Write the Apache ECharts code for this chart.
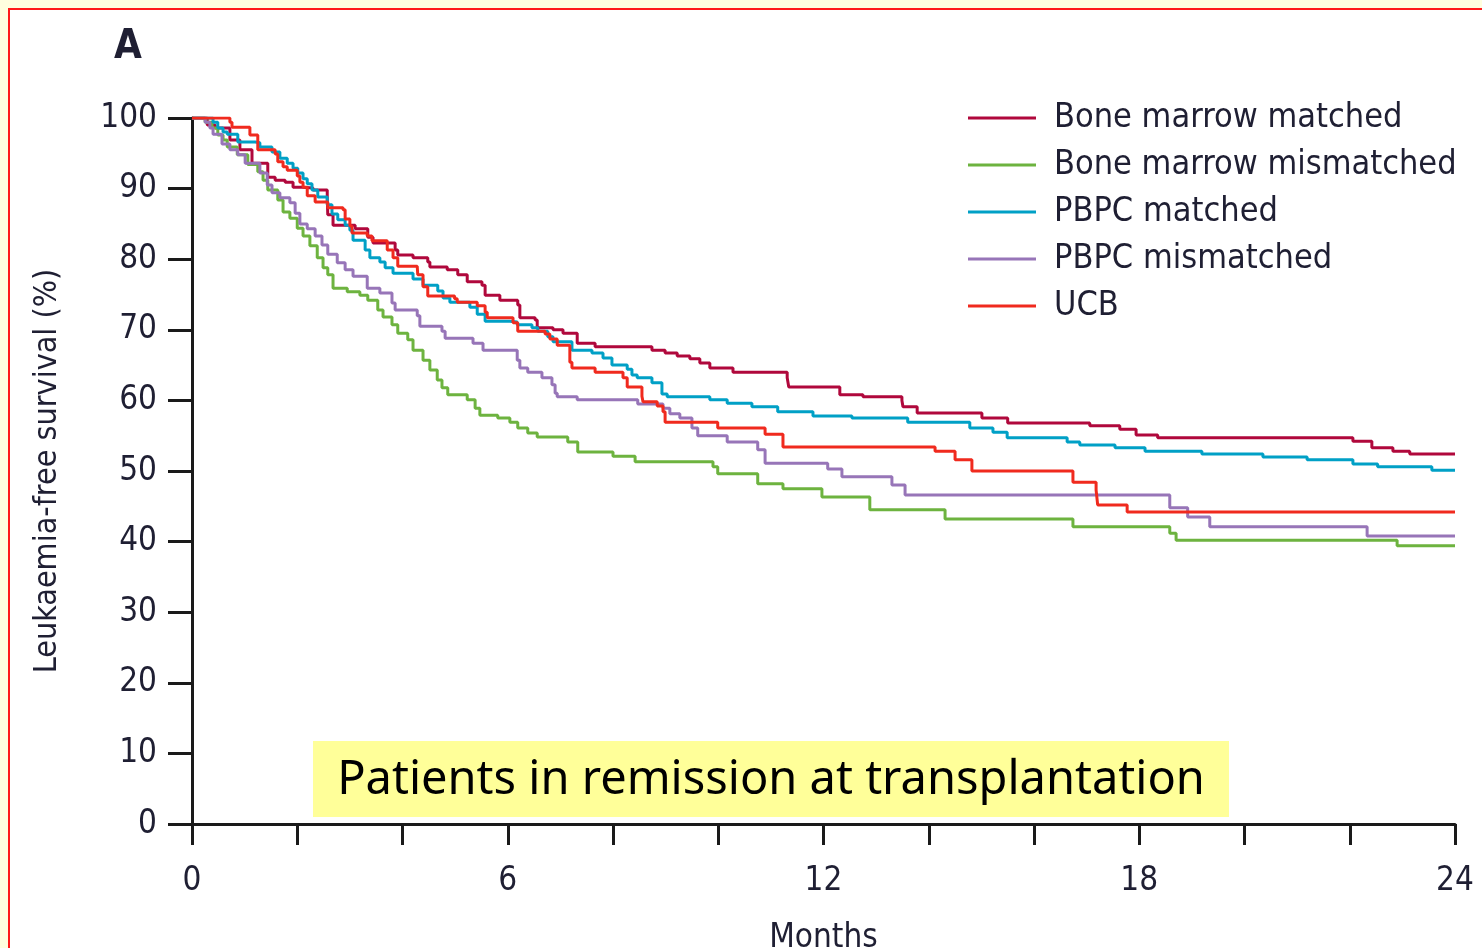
<!DOCTYPE html>
<html>
<head>
<meta charset="utf-8">
<script src="https://cdn.jsdelivr.net/npm/echarts@6/dist/echarts.min.js"></script>
<style>
  html, body { margin: 0; padding: 0; background: #FFFFDF; overflow: hidden; }
  #chart { width: 1482px; height: 948px; }
</style>
</head>
<body>
<div id="chart"></div>
<script>
// Kaplan-Meier step points: month at which survival (%) changes
const seriesNames = ['Bone marrow matched', 'Bone marrow mismatched', 'PBPC matched', 'PBPC mismatched', 'UCB'];
const seriesColors = ['#B0083C', '#6DB33F', '#00A0C6', '#9775B8', '#F02A1E'];

const bmMatchedMonths = [0, 0.29, 0.44, 0.72, 0.91, 1.14, 1.44, 1.58, 1.77, 1.92, 2.09, 2.30, 2.57, 2.58, 2.68, 3.10, 3.34, 3.44, 3.86, 3.91, 4.20, 4.48, 4.52, 4.85, 5.05, 5.23, 5.51, 5.57, 5.85, 6.19, 6.23, 6.52, 6.56, 6.86, 7.05, 7.32, 7.66, 8.74, 8.99, 9.22, 9.46, 9.65, 9.84, 10.28, 11.31, 11.34, 12.31, 12.75, 13.49, 13.51, 13.78, 15.01, 15.50, 17.06, 17.63, 17.94, 18.35, 22.06, 22.42, 22.82, 23.14, 24];
const bmMatchedSurvival = [100, 99.0, 98.6, 96.9, 95.5, 93.6, 91.6, 91.2, 90.9, 90.2, 90.1, 89.8, 88.8, 86.3, 84.8, 84.3, 83.1, 82.3, 81.3, 80.6, 80.2, 79.6, 78.9, 78.5, 77.8, 76.8, 76.3, 74.9, 74.2, 73.5, 71.7, 71.4, 70.3, 70.0, 69.5, 68.1, 67.6, 67.1, 66.7, 66.3, 65.9, 65.3, 64.6, 64.0, 63.2, 61.9, 60.8, 60.5, 60.0, 59.1, 58.2, 57.5, 56.8, 56.4, 55.9, 55.1, 54.7, 54.2, 53.3, 52.8, 52.4, 52.4];

const bmMismatchedMonths = [0, 0.25, 0.38, 0.49, 0.59, 0.67, 0.86, 1.06, 1.25, 1.35, 1.44, 1.63, 1.73, 1.86, 2.00, 2.11, 2.24, 2.38, 2.49, 2.58, 2.68, 2.95, 3.19, 3.34, 3.53, 3.63, 3.80, 3.91, 4.10, 4.20, 4.39, 4.52, 4.66, 4.75, 4.86, 5.23, 5.38, 5.47, 5.81, 6.04, 6.19, 6.38, 6.56, 7.14, 7.33, 8.00, 8.42, 9.90, 9.99, 10.75, 11.23, 11.97, 12.88, 14.31, 16.74, 18.58, 18.70, 22.90, 24];
const bmMismatchedSurvival = [100, 99.4, 98.6, 97.6, 96.9, 95.9, 94.8, 93.4, 92.4, 91.2, 89.8, 88.4, 86.7, 85.8, 84.4, 83.3, 81.9, 80.2, 78.8, 77.8, 75.9, 75.4, 74.9, 74.2, 72.8, 71.8, 70.7, 69.5, 68.6, 67.1, 65.7, 64.3, 62.9, 61.8, 60.8, 60.1, 58.9, 57.9, 57.5, 56.9, 56.1, 55.4, 54.8, 54.1, 52.7, 52.1, 51.3, 50.6, 49.6, 48.2, 47.5, 46.3, 44.5, 43.2, 42.1, 41.2, 40.2, 39.4, 39.4];

const pbpcMatchedMonths = [0, 0.40, 0.49, 0.59, 0.67, 0.87, 1.20, 1.29, 1.52, 1.67, 1.81, 1.92, 2.01, 2.11, 2.19, 2.28, 2.39, 2.57, 2.66, 2.77, 2.91, 3.00, 3.06, 3.29, 3.38, 3.57, 3.67, 3.82, 4.20, 4.39, 4.67, 4.77, 4.90, 5.28, 5.42, 5.57, 6.04, 6.18, 6.46, 6.57, 6.76, 6.86, 7.22, 7.60, 7.81, 7.98, 8.27, 8.36, 8.46, 8.74, 8.93, 9.03, 9.84, 10.17, 10.64, 11.13, 11.80, 12.54, 13.60, 14.78, 15.22, 15.49, 16.63, 16.87, 17.54, 18.11, 19.19, 20.35, 21.19, 22.06, 22.53, 23.56, 24];
const pbpcMatchedSurvival = [100, 99.4, 98.6, 98.0, 97.7, 96.6, 96.5, 95.9, 95.2, 94.3, 93.6, 92.9, 92.2, 91.4, 90.7, 89.8, 88.8, 87.7, 86.4, 85.6, 84.8, 84.1, 82.7, 81.3, 80.2, 79.6, 78.8, 78.0, 77.2, 76.3, 75.5, 74.5, 73.9, 73.2, 72.2, 71.2, 71.1, 70.7, 70.3, 69.8, 69.0, 68.3, 67.1, 66.7, 66.0, 65.0, 64.4, 63.6, 63.2, 62.5, 60.9, 60.5, 60.1, 59.6, 59.1, 58.4, 57.8, 57.5, 56.9, 56.1, 55.5, 54.7, 54.1, 53.7, 53.3, 52.8, 52.4, 52.0, 51.6, 51.0, 50.6, 50.1, 50.1];

const pbpcMismatchedMonths = [0, 0.25, 0.34, 0.40, 0.57, 0.72, 0.87, 1.01, 1.29, 1.43, 1.52, 1.67, 1.86, 1.96, 2.05, 2.19, 2.34, 2.47, 2.58, 2.76, 2.91, 3.06, 3.33, 3.57, 3.80, 3.86, 4.28, 4.33, 4.75, 4.81, 5.34, 5.53, 6.18, 6.23, 6.38, 6.65, 6.84, 6.90, 6.94, 7.32, 8.47, 8.95, 9.08, 9.27, 9.50, 9.61, 10.17, 10.75, 10.89, 12.08, 12.35, 13.30, 13.55, 18.58, 18.92, 19.34, 22.33, 24];
const pbpcMismatchedSurvival = [100, 99.4, 98.6, 97.7, 96.3, 95.5, 94.8, 93.6, 92.2, 90.5, 89.4, 88.7, 88.0, 86.5, 85.0, 84.3, 83.3, 82.0, 80.7, 79.5, 78.5, 77.6, 75.9, 75.2, 73.8, 72.8, 72.0, 70.5, 69.8, 68.8, 68.1, 67.1, 65.7, 64.6, 64.0, 63.2, 62.2, 61.0, 60.5, 60.1, 59.5, 58.9, 58.1, 57.5, 56.1, 55.0, 54.1, 53.0, 51.1, 50.3, 49.2, 48.0, 46.6, 44.8, 43.5, 42.1, 40.8, 40.8];

const ucbMonths = [0, 0.72, 0.76, 1.10, 1.25, 1.58, 1.63, 1.73, 1.81, 2.00, 2.05, 2.11, 2.19, 2.34, 2.58, 2.87, 2.91, 3.00, 3.04, 3.33, 3.42, 3.71, 3.82, 3.91, 4.28, 4.29, 4.39, 4.48, 4.99, 5.04, 5.42, 5.57, 5.61, 6.10, 6.19, 6.71, 6.80, 6.94, 7.18, 7.22, 7.66, 8.19, 8.27, 8.55, 8.57, 8.84, 8.95, 8.99, 9.99, 10.89, 11.23, 14.12, 14.50, 14.82, 16.74, 17.18, 17.21, 17.77, 24];
const ucbSurvival = [100, 99.4, 98.7, 97.6, 95.5, 94.9, 93.8, 93.1, 92.6, 91.8, 90.9, 90.2, 89.0, 88.1, 87.3, 87.0, 85.7, 84.7, 83.7, 83.3, 82.6, 81.3, 80.2, 79.0, 78.8, 77.8, 76.1, 74.8, 74.4, 73.9, 73.4, 72.5, 71.7, 71.0, 69.8, 69.4, 68.7, 67.8, 65.4, 64.6, 64.0, 63.2, 61.9, 60.6, 59.8, 59.2, 58.4, 56.9, 56.1, 55.2, 53.4, 52.8, 51.6, 50.0, 48.4, 47.3, 45.2, 44.2, 44.2];

const yTicks = [0, 10, 20, 30, 40, 50, 60, 70, 80, 90, 100];
const xTickLabels = [0, 6, 12, 18, 24];

const monthsList = [bmMatchedMonths, bmMismatchedMonths, pbpcMatchedMonths, pbpcMismatchedMonths, ucbMonths];
const survivalList = [bmMatchedSurvival, bmMismatchedSurvival, pbpcMatchedSurvival, pbpcMismatchedSurvival, ucbSurvival];

const textFont = '"DejaVu Sans Condensed", "Liberation Sans Narrow", "DejaVu Sans", sans-serif';
const textColor = '#1f1f33';

const chart = echarts.init(document.getElementById('chart'), null, { renderer: 'canvas' });

const series = seriesNames.map((name, i) => ({
  name,
  type: 'line',
  step: 'end',
  showSymbol: false,
  symbol: 'none',
  animation: false,
  lineStyle: { color: seriesColors[i], width: 3 },
  itemStyle: { color: seriesColors[i] },
  data: monthsList[i].map((m, k) => [m, survivalList[i][k]])
}));

chart.setOption({
  backgroundColor: '#FFFFDF',
  animation: false,
  grid: { left: 192, top: 118, right: 27, bottom: 124, containLabel: false, outerBoundsMode: 'none' },
  xAxis: {
    type: 'value', min: 0, max: 24, interval: 2,
    name: 'Months', nameLocation: 'middle', nameGap: 98,
    nameTextStyle: { fontFamily: textFont, fontSize: 33, color: textColor },
    axisLine: { onZero: false, lineStyle: { color: '#1a1a1a', width: 3 } },
    axisTick: { length: 21, lineStyle: { color: '#1a1a1a', width: 3 } },
    splitLine: { show: false },
    axisLabel: {
      margin: 41, fontFamily: textFont, fontSize: 33, color: textColor,
      formatter: v => (xTickLabels.indexOf(v) >= 0 ? String(v) : '')
    }
  },
  yAxis: {
    type: 'value', min: 0, max: 100, interval: 10,
    name: 'Leukaemia-free survival (%)', nameLocation: 'middle', nameGap: 128, nameRotate: 90,
    nameTextStyle: { fontFamily: textFont, fontSize: 32, color: textColor },
    axisLine: { show: true, lineStyle: { color: '#1a1a1a', width: 3 } },
    axisTick: { show: true, length: 24, lineStyle: { color: '#1a1a1a', width: 3 } },
    splitLine: { show: false },
    axisLabel: {
      margin: 35, fontFamily: textFont, fontSize: 33, color: textColor,
      formatter: v => (yTicks.indexOf(v) >= 0 ? String(v) : '')
    }
  },
  legend: {
    orient: 'vertical', left: 968, top: 99, padding: 0,
    icon: 'rect', itemWidth: 68, itemHeight: 3, itemGap: 9,
    data: seriesNames,
    textStyle: { fontFamily: textFont, fontSize: 34, color: textColor, lineHeight: 38, padding: [0, 0, 0, 13] }
  },
  graphic: [
    { type: 'rect', z: -10, shape: { x: 9, y: 9, width: 1500, height: 980 },
      style: { fill: '#ffffff', stroke: '#FF1a1a', lineWidth: 2 } },
    { type: 'text', z: 10, left: 114, top: 28,
      style: { text: 'A', font: 'bold 40px ' + textFont, fill: textColor } },
    { type: 'rect', z: 10, shape: { x: 313, y: 741, width: 916, height: 76 },
      style: { fill: '#FFFF99' } },
    { type: 'text', z: 11, x: 771, y: 781,
      style: { text: 'Patients in remission at transplantation', font: '47px "Noto Sans", sans-serif',
        fill: '#000000', align: 'center', verticalAlign: 'middle' } }
  ],
  series
});
</script>
</body>
</html>
